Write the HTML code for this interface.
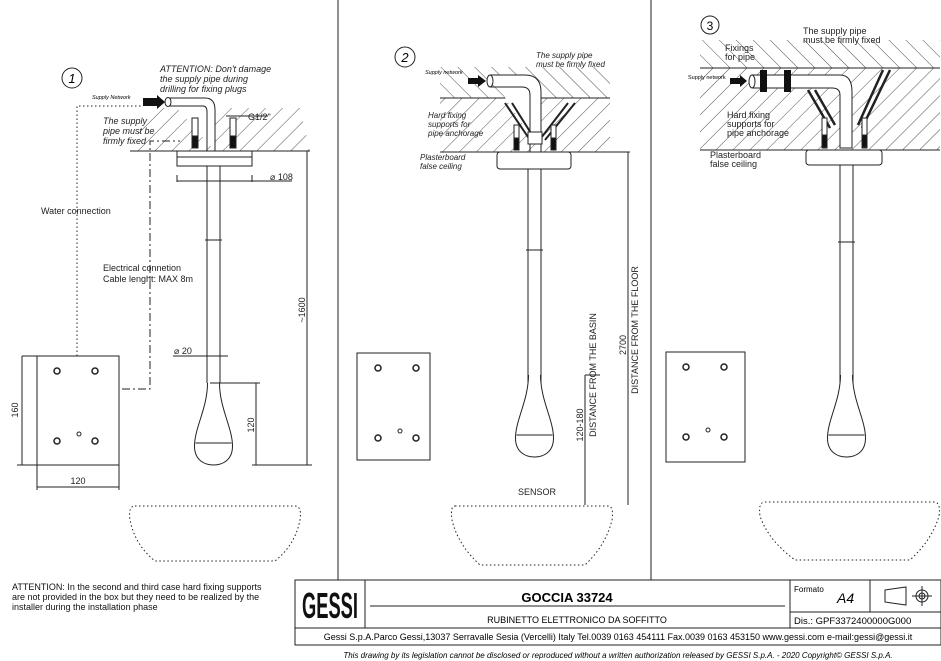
<!DOCTYPE html>
<html><head><meta charset="utf-8"><style>
html,body{margin:0;padding:0;background:#fff;width:941px;height:661px;overflow:hidden}
svg{display:block;font-family:"Liberation Sans",sans-serif}
.t{font-size:9px;fill:#222}
.i{font-style:italic}
</style></head><body>
<svg width="941" height="661" viewBox="0 0 941 661" xmlns="http://www.w3.org/2000/svg">
<defs>
<pattern id="h1" width="12" height="12" patternUnits="userSpaceOnUse" patternTransform="rotate(45)"><line x1="0" y1="0" x2="0" y2="12" stroke="#222" stroke-width="0.8"/></pattern>
<pattern id="h2" width="12" height="12" patternUnits="userSpaceOnUse" patternTransform="rotate(-45)"><line x1="0" y1="0" x2="0" y2="12" stroke="#222" stroke-width="0.8"/></pattern>
<g id="drop">
<path d="M-6,0 C-6,25 -19,45 -19,63 C-19,78 -8,82 0,82 C8,82 19,78 19,63 C19,45 6,25 6,0" fill="#fff" stroke="#222" stroke-width="1"/>
<line x1="-18" y1="60" x2="18" y2="60" stroke="#222"/>
</g>
<g id="box">
<circle cx="20" cy="15" r="3" fill="none" stroke="#222" stroke-width="1.5"/>
<circle cx="58" cy="15" r="3" fill="none" stroke="#222" stroke-width="1.5"/>
<circle cx="20" cy="85" r="3" fill="none" stroke="#222" stroke-width="1.5"/>
<circle cx="58" cy="85" r="3" fill="none" stroke="#222" stroke-width="1.5"/>
<circle cx="42" cy="78" r="2" fill="none" stroke="#222"/>
</g>
</defs>
<g stroke="#222" fill="none" stroke-width="1">
<line x1="338" y1="0" x2="338" y2="580"/>
<line x1="651" y1="0" x2="651" y2="580"/>

<!-- PANEL 1 -->
<circle cx="72" cy="78" r="10"/>
<polygon points="130,151 310,151 300,108 150,108" fill="url(#h1)" stroke="none"/>
<line x1="130" y1="151" x2="310" y2="151"/>
<rect x="177" y="151" width="75" height="15" fill="#fff"/>
<line x1="177" y1="157" x2="252" y2="157"/>
<path d="M168,98 L205,98 Q215,98 215,110 L215,151" fill="#fff"/>
<path d="M168,106 L203,106 Q207,106 207,112 L207,151" fill="none"/>
<ellipse cx="168" cy="102" rx="3" ry="4.5" fill="#fff"/>
<polygon points="143,98 157,98 157,95 165,102 157,109 157,106 143,106" fill="#111" stroke="none"/>
<rect x="192" y="118" width="6" height="30" fill="#fff"/><rect x="192" y="136" width="6" height="12" fill="#111"/>
<rect x="230" y="118" width="6" height="30" fill="#fff"/><rect x="230" y="136" width="6" height="12" fill="#111"/>
<line x1="207" y1="166" x2="207" y2="383"/><line x1="220" y1="166" x2="220" y2="383"/>
<line x1="205" y1="240" x2="222" y2="240"/>
<use href="#drop" x="213.5" y="383"/>
<line x1="177" y1="175" x2="177" y2="182"/><line x1="252" y1="175" x2="252" y2="182"/>
<line x1="177" y1="181" x2="292" y2="181"/>
<line x1="307" y1="151" x2="307" y2="465"/>
<line x1="252" y1="465" x2="312" y2="465"/>
<line x1="210" y1="383" x2="260" y2="383"/>
<line x1="256" y1="383" x2="256" y2="465"/>
<line x1="173" y1="356" x2="228" y2="356"/>
<line x1="226" y1="116" x2="268" y2="116"/>
<rect x="37" y="356" width="82" height="109"/>
<use href="#box" x="37" y="356"/>
<line x1="17" y1="465" x2="119" y2="465"/>
<line x1="22" y1="356" x2="37" y2="356"/><line x1="22" y1="356" x2="22" y2="465"/>
<line x1="37" y1="465" x2="37" y2="490"/><line x1="119" y1="465" x2="119" y2="490"/>
<line x1="37" y1="487" x2="119" y2="487"/>
<polyline points="77,356 77,106 143,106" stroke-dasharray="1.5,2.5"/>
<polyline points="122,389 150,389 150,141 180,141" stroke-dasharray="8,3,2,3"/>
<path d="M135,506 L295,506 Q302,506 300,520 Q295,545 275,561 L155,561 Q135,545 130,520 Q128,506 135,506Z" stroke-dasharray="1.5,2.5"/>

<!-- PANEL 2 -->
<circle cx="405" cy="57" r="10"/>
<polygon points="440,67 610,67 610,98 440,98" fill="url(#h2)" stroke="none"/>
<polygon points="440,98 610,98 610,152 440,152" fill="url(#h1)" stroke="none"/>
<line x1="440" y1="98" x2="610" y2="98"/>
<line x1="440" y1="152" x2="630" y2="152"/>
<path d="M490,75 L525,75 Q541,75 541,92 L541,152" fill="#fff"/>
<path d="M490,87 L522,87 Q530,87 530,95 L530,152" fill="none"/>
<ellipse cx="490" cy="81" rx="3" ry="6" fill="#fff"/>
<polygon points="468,78 478,78 478,75 486,81 478,87 478,84 468,84" fill="#111" stroke="none"/>
<path d="M505,103 L530,140 M512,103 L534,138 M575,103 L545,140 M568,103 L541,138" stroke-width="2"/>
<rect x="514" y="125" width="5" height="25" fill="#fff"/><rect x="514" y="138" width="5" height="12" fill="#111"/>
<rect x="551" y="125" width="5" height="25" fill="#fff"/><rect x="551" y="138" width="5" height="12" fill="#111"/>
<rect x="528" y="132" width="14" height="12" fill="#fff"/>
<rect x="497" y="152" width="74" height="17" fill="#fff" rx="3"/>
<line x1="528" y1="169" x2="528" y2="383"/><line x1="541" y1="169" x2="541" y2="383"/>
<line x1="526" y1="250" x2="543" y2="250"/>
<use href="#drop" x="534.5" y="375"/>
<line x1="628" y1="152" x2="628" y2="505"/>
<line x1="585" y1="375" x2="600" y2="375"/>
<line x1="585" y1="375" x2="585" y2="505"/>
<rect x="357" y="353" width="73" height="107"/>
<use href="#box" x="358" y="353"/>
<path d="M455,506 L608,506 Q614,506 612,520 Q606,545 585,565 L480,565 Q458,545 452,520 Q450,506 455,506Z" stroke-dasharray="1.5,2.5"/>

<!-- PANEL 3 -->
<circle cx="710" cy="25" r="9"/>
<polygon points="700,40 940,40 940,68 700,68" fill="url(#h2)" stroke="none"/>
<polygon points="700,68 940,68 940,150 700,150" fill="url(#h1)" stroke="none"/>
<line x1="700" y1="68" x2="940" y2="68"/>
<line x1="700" y1="150" x2="940" y2="150"/>
<path d="M752,75 L840,75 Q852,75 852,92 L852,148 L840,148 L840,95 Q840,88 832,88 L752,88" fill="#fff"/>
<ellipse cx="752" cy="81.5" rx="3" ry="6.5" fill="#fff"/>
<rect x="760" y="70" width="7" height="22" fill="#111" stroke="none"/>
<rect x="784" y="70" width="7" height="22" fill="#111" stroke="none"/>
<polygon points="730,78 740,78 740,75 747,81 740,87 740,84 730,84" fill="#111" stroke="none"/>
<path d="M808,90 L830,128 M815,90 L835,125 M890,70 L862,128 M883,70 L858,125" stroke-width="2.5"/>
<rect x="822" y="118" width="5" height="30" fill="#fff"/><rect x="822" y="135" width="5" height="12" fill="#111"/>
<rect x="862" y="118" width="5" height="30" fill="#fff"/><rect x="862" y="135" width="5" height="12" fill="#111"/>
<rect x="806" y="150" width="76" height="15" fill="#fff" rx="3"/>
<line x1="840" y1="165" x2="840" y2="383"/><line x1="853" y1="165" x2="853" y2="383"/>
<line x1="838" y1="242" x2="855" y2="242"/>
<use href="#drop" x="846.5" y="375"/>
<rect x="666" y="352" width="79" height="110"/>
<use href="#box" x="666" y="352"/>
<path d="M765,502 L934,502 Q941,502 939,516 Q932,540 910,560 L795,560 Q768,540 760,516 Q758,502 765,502Z" stroke-dasharray="1.5,2.5"/>

<!-- TITLE BLOCK -->
<rect x="295" y="580" width="646" height="65"/>
<line x1="365" y1="580" x2="365" y2="628"/>
<line x1="370" y1="606" x2="785" y2="606"/>
<line x1="790" y1="580" x2="790" y2="628"/>
<line x1="870" y1="580" x2="870" y2="612"/>
<line x1="790" y1="612" x2="941" y2="612"/>
<line x1="295" y1="628" x2="941" y2="628"/>
<circle cx="922" cy="596" r="6"/><circle cx="922" cy="596" r="3"/>
<line x1="912" y1="596" x2="932" y2="596"/><line x1="922" y1="586" x2="922" y2="606"/>
<polygon points="885,590 906,587 906,605 885,602"/>
</g>
<text x="330" y="618" font-size="36" font-weight="bold" text-anchor="middle" fill="#111" textLength="56" lengthAdjust="spacingAndGlyphs">GESSI</text>
<text x="72" y="83" font-size="13" text-anchor="middle" class="i">1</text>
<text x="405" y="62" font-size="13" text-anchor="middle" class="i">2</text>
<text x="710" y="30" font-size="12" text-anchor="middle">3</text>
<g class="t i">
<text x="160" y="72">ATTENTION: Don't damage</text>
<text x="160" y="82">the supply pipe during</text>
<text x="160" y="92">drilling for fixing plugs</text>
<text x="103" y="124">The supply</text><text x="103" y="134">pipe must be</text><text x="103" y="144">firmly fixed</text>
<text x="536" y="58" font-size="8">The supply pipe</text><text x="536" y="67" font-size="8">must be firmly fixed</text>
<text x="428" y="118" font-size="8">Hard fixing</text><text x="428" y="127" font-size="8">supports for</text><text x="428" y="136" font-size="8">pipe anchorage</text>
<text x="420" y="160" font-size="8">Plasterboard</text><text x="420" y="169" font-size="8">false ceiling</text>
</g>
<text x="92" y="99" font-size="5.5" font-style="italic">Supply Network</text>
<text x="425" y="74" font-size="5.5" font-style="italic">Supply network</text>
<text x="688" y="79" font-size="5.5">Supply network</text>
<g class="t" font-size="8">
<text x="803" y="34">The supply pipe</text><text x="803" y="43">must be firmly fixed</text>
<text x="725" y="51">Fixings</text><text x="725" y="60">for pipe</text>
<text x="727" y="118">Hard fixing</text><text x="727" y="127">supports for</text><text x="727" y="136">pipe anchorage</text>
<text x="710" y="158">Plasterboard</text><text x="710" y="167">false ceiling</text>
</g>
<g class="t">
<text x="248" y="120">G1/2"</text>
<text x="270" y="180">⌀ 108</text>
<text x="41" y="214">Water connection</text>
<text x="103" y="271">Electrical connetion</text>
<text x="103" y="282">Cable lenght: MAX 8m</text>
<text x="174" y="354">⌀ 20</text>
<text x="78" y="484" text-anchor="middle">120</text>
<text x="518" y="495">SENSOR</text>
<text transform="translate(18,410) rotate(-90)" text-anchor="middle">160</text>
<text transform="translate(254,425) rotate(-90)" text-anchor="middle">120</text>
<text transform="translate(305,310) rotate(-90)" text-anchor="middle">~1600</text>
<text transform="translate(583,425) rotate(-90)" text-anchor="middle">120-180</text>
<text transform="translate(596,375) rotate(-90)" text-anchor="middle">DISTANCE FROM THE BASIN</text>
<text transform="translate(626,345) rotate(-90)" text-anchor="middle">2700</text>
<text transform="translate(638,330) rotate(-90)" text-anchor="middle">DISTANCE FROM THE FLOOR</text>
</g>
<g font-size="9" fill="#111">
<text x="12" y="590">ATTENTION: In the second and third case hard fixing supports</text>
<text x="12" y="600">are not provided in the box but they need to be realized by the</text>
<text x="12" y="610">installer during the installation phase</text>
</g>
<text x="567" y="602" font-size="13" font-weight="bold" text-anchor="middle">GOCCIA 33724</text>
<text x="577" y="623" font-size="9" text-anchor="middle">RUBINETTO ELETTRONICO DA SOFFITTO</text>
<text x="794" y="592" font-size="8">Formato</text>
<text x="837" y="603" font-size="14" font-style="italic">A4</text>
<text x="794" y="624" font-size="9.5">Dis.: GPF3372400000G000</text>
<text x="618" y="640" font-size="9" text-anchor="middle">Gessi S.p.A.Parco Gessi,13037 Serravalle Sesia (Vercelli) Italy Tel.0039 0163 454111 Fax.0039 0163 453150 www.gessi.com e-mail:gessi@gessi.it</text>
<text x="618" y="658" font-size="8" font-style="italic" text-anchor="middle">This drawing by its legislation cannot be disclosed or reproduced without a written authorization released by GESSI S.p.A. - 2020 Copyright© GESSI S.p.A.</text>
</svg>
</body></html>
